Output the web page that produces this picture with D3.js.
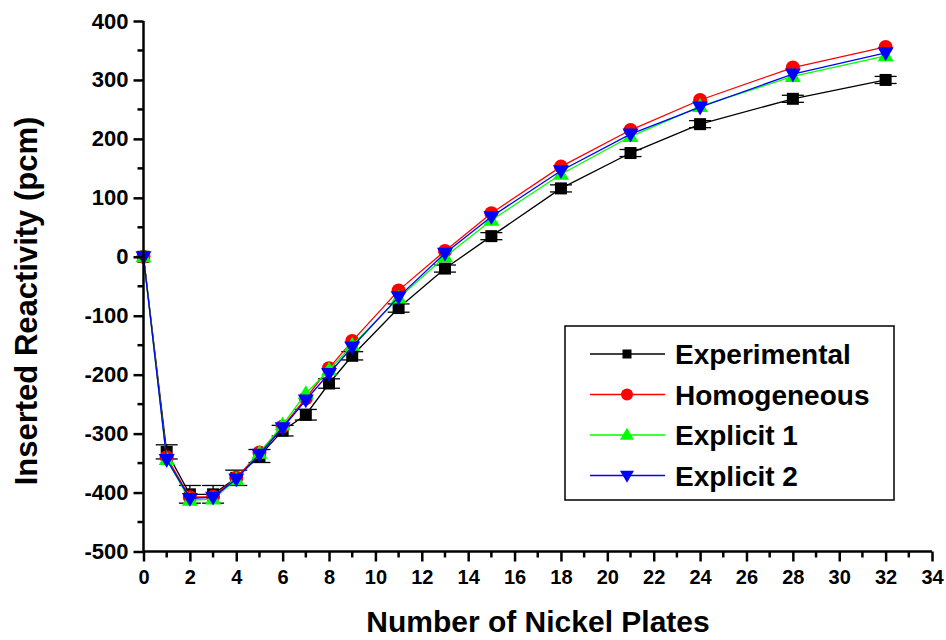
<!DOCTYPE html>
<html>
<head>
<meta charset="utf-8">
<script src="https://cdn.jsdelivr.net/npm/d3@7"></script>
<style>
  body { margin: 0; background: #fff; }
  svg { display: block; font-family: "Liberation Sans", Arial, sans-serif; font-weight: bold; }
</style>
</head>
<body>
<div id="chart"></div>
<script>
// plates, shared by all series
var plates = [0, 1, 2, 3, 4, 5, 6, 7, 8, 9, 11, 13, 15, 18, 21, 24, 28, 32];

var experimental = [0, -331, -403, -403, -375, -338, -295, -268, -215, -168, -87, -20, 35, 116, 176, 225, 268, 300];
var experimentalErr = [0, 12, 15, 15, 13, 11, 9, 9, 8, 7, 7, 6, 6, 6, 6, 6, 6, 6];
var homogeneous = [0, -340, -408, -407, -375, -332, -288, -240, -189, -143, -57, 10, 74, 153, 215, 266, 321, 356];
var explicit1 = [0, -344, -413, -411, -378, -333, -285, -232, -192, -150, -70, 0, 62, 140, 204, 255, 306, 341];
var explicit2 = [0, -344, -410, -408, -377, -335, -290, -243, -198, -153, -68, 6, 68, 146, 208, 254, 310, 346];

var seriesNames = ["Experimental", "Homogeneous", "Explicit 1", "Explicit 2"];
var seriesColors = ["#000000", "#ff0000", "#00ff00", "#0000ff"];
var seriesShapes = ["square", "circle", "up", "down"];

var xTicks = d3.range(0, 35, 2);
var yTicks = d3.range(-500, 401, 100);

var width = 946, height = 640;
var plotLeft = 143.5, plotRight = 932, plotTop = 21, plotBottom = 551.5;

var x = d3.scaleLinear().domain([0, 34]).range([plotLeft, plotRight]);
var y = d3.scaleLinear().domain([-500, 400]).range([plotBottom, plotTop]);

var svg = d3.select("#chart").append("svg")
    .attr("width", width)
    .attr("height", height);

function markerPath(shape, s) {
    if (shape == "square") return "M" + (-s / 2) + "," + (-s / 2) + "h" + s + "v" + s + "h" + (-s) + "Z";
    if (shape == "circle") { var r = s / 2; return "M" + (-r) + ",0a" + r + "," + r + " 0 1,0 " + (2 * r) + ",0a" + r + "," + r + " 0 1,0 " + (-2 * r) + ",0Z"; }
    var h = s * 0.87;
    if (shape == "up") return "M0," + (-h * 0.6) + "L" + (s / 2) + "," + (h * 0.4) + "L" + (-s / 2) + "," + (h * 0.4) + "Z";
    return "M0," + (h * 0.6) + "L" + (s / 2) + "," + (-h * 0.4) + "L" + (-s / 2) + "," + (-h * 0.4) + "Z";
}

var allSeries = [experimental, homogeneous, explicit1, explicit2];
var markerSize = [12, 14, 16, 16];

var line = d3.line()
    .x(function(d) { return x(d.x); })
    .y(function(d) { return y(d.y); });

allSeries.forEach(function(vals, i) {
    var pts = plates.map(function(p, j) { return { x: p, y: vals[j], e: i == 0 ? experimentalErr[j] : 0 }; });
    var g = svg.append("g");

    g.append("path")
        .datum(pts)
        .attr("d", line)
        .attr("fill", "none")
        .attr("stroke", seriesColors[i])
        .attr("stroke-width", 1.3);

    if (i == 0) {
        var eb = g.selectAll(".err")
            .data(pts.filter(function(d) { return d.e > 0; }))
            .enter().append("g")
            .attr("class", "err");
        eb.append("line")
            .attr("x1", function(d) { return x(d.x); }).attr("x2", function(d) { return x(d.x); })
            .attr("y1", function(d) { return y(d.y - d.e); }).attr("y2", function(d) { return y(d.y + d.e); });
        eb.append("line")
            .attr("x1", function(d) { return x(d.x) - 11; }).attr("x2", function(d) { return x(d.x) + 11; })
            .attr("y1", function(d) { return y(d.y + d.e); }).attr("y2", function(d) { return y(d.y + d.e); });
        eb.append("line")
            .attr("x1", function(d) { return x(d.x) - 11; }).attr("x2", function(d) { return x(d.x) + 11; })
            .attr("y1", function(d) { return y(d.y - d.e); }).attr("y2", function(d) { return y(d.y - d.e); });
        eb.selectAll("line").attr("stroke", "#000").attr("stroke-width", 1.3);
    }

    g.selectAll(".pt")
        .data(pts)
        .enter().append("path")
        .attr("class", "pt")
        .attr("transform", function(d) { return "translate(" + x(d.x) + "," + y(d.y) + ")"; })
        .attr("d", markerPath(seriesShapes[i], markerSize[i]))
        .attr("fill", seriesColors[i]);
});

// axes, plain hyphen for negatives like the original
var plainFormat = function(d) { return String(d); };

var xAxis = svg.append("g")
    .attr("transform", "translate(0," + plotBottom + ")")
    .call(d3.axisBottom(x).tickValues(xTicks).tickSize(10).tickPadding(8).tickFormat(plainFormat));
xAxis.append("g").selectAll("line")
    .data(d3.range(1, 34, 2))
    .enter().append("line")
    .attr("x1", function(d) { return x(d); }).attr("x2", function(d) { return x(d); })
    .attr("y1", 0).attr("y2", 6)
    .attr("stroke", "#000").attr("stroke-width", 2.5);

var yAxis = svg.append("g")
    .attr("transform", "translate(" + plotLeft + ",0)")
    .call(d3.axisLeft(y).tickValues(yTicks).tickSize(10).tickPadding(5).tickFormat(plainFormat));
yAxis.append("g").selectAll("line")
    .data(d3.range(-450, 400, 100))
    .enter().append("line")
    .attr("y1", function(d) { return y(d); }).attr("y2", function(d) { return y(d); })
    .attr("x1", 0).attr("x2", -6)
    .attr("stroke", "#000").attr("stroke-width", 2.5);

[xAxis, yAxis].forEach(function(a) {
    a.select(".domain").attr("stroke-width", 2.5);
    a.selectAll(".tick line").attr("stroke-width", 2.5);
    a.selectAll(".tick text").attr("fill", "#000").style("font-family", "'Liberation Sans', Arial, sans-serif").style("font-weight", "bold");
});
xAxis.select(".domain").attr("d", "M" + plotLeft + ",0H" + plotRight);
yAxis.select(".domain").attr("d", "M0," + plotBottom + "V" + plotTop);
xAxis.selectAll(".tick text").style("font-size", "20px");
yAxis.selectAll(".tick text").style("font-size", "22px");

// axis titles
svg.append("text")
    .attr("x", 538).attr("y", 632)
    .attr("text-anchor", "middle")
    .style("font-size", "30px")
    .text("Number of Nickel Plates");

svg.append("text")
    .attr("transform", "translate(37,301) rotate(-90)")
    .attr("text-anchor", "middle")
    .style("font-size", "31px")
    .text("Inserted Reactivity (pcm)");

// legend
var legend = svg.append("g");
legend.append("rect")
    .attr("x", 565).attr("y", 326)
    .attr("width", 329).attr("height", 174)
    .attr("fill", "#fff")
    .attr("stroke", "#000")
    .attr("stroke-width", 1.5);

var legendSize = [9, 12, 14, 14];
seriesNames.forEach(function(name, i) {
    var ly = 354 + i * 40.5;
    legend.append("line")
        .attr("x1", 590).attr("x2", 665)
        .attr("y1", ly).attr("y2", ly)
        .attr("stroke", seriesColors[i]).attr("stroke-width", 1.3);
    legend.append("path")
        .attr("transform", "translate(627," + ly + ")")
        .attr("d", markerPath(seriesShapes[i], legendSize[i]))
        .attr("fill", seriesColors[i]);
    legend.append("text")
        .attr("x", 675).attr("y", ly + 10)
        .style("font-size", "28px")
        .text(name);
});
</script>
</body>
</html>
